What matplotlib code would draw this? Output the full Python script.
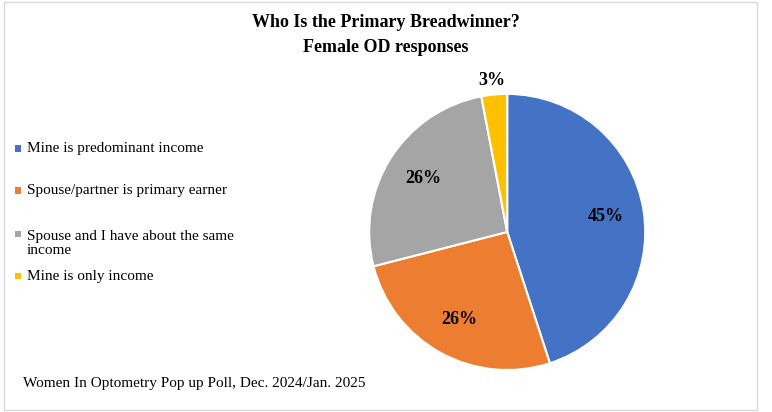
import matplotlib.pyplot as plt
from matplotlib.patches import Rectangle

labels = ["Mine is predominant income", "Spouse/partner is primary earner",
          "Spouse and I have about the same\nincome", "Mine is only income"]
values = [45, 26, 26, 3]
colors = ["#4472C4", "#ED7D31", "#A5A5A5", "#FFC000"]

plt.rcParams['font.family'] = ['Liberation Serif', 'DejaVu Serif']
fig = plt.figure(figsize=(7.72, 4.12), dpi=100)
fig.patches.append(Rectangle((0.005, 0.005), 0.975, 0.99, transform=fig.transFigure,
                             fill=False, edgecolor="#D9D9D9", linewidth=1))

fig.text(0.5, 0.945, "Who Is the Primary Breadwinner?", ha="center", va="center",
         fontsize=13, fontweight="bold")
fig.text(0.5, 0.885, "Female OD responses", ha="center", va="center",
         fontsize=13, fontweight="bold")

ax = fig.add_axes([0.478, 0.102, 0.358, 0.67])
wedges, texts, autotexts = ax.pie(values, colors=colors, startangle=90, counterclock=False,
                                  autopct="%d%%", pctdistance=0.72,
                                  wedgeprops=dict(edgecolor="white", linewidth=1.5),
                                  textprops=dict(fontsize=13, fontweight="bold"))
autotexts[3].set_position((-0.11, 1.1))
ax.set_xlim(-1, 1)
ax.set_ylim(-1, 1)
ax.set_aspect("equal")

ys = [0.64, 0.538, 0.41, 0.33]
for y, lab, c in zip(ys, labels, colors):
    my = y + 0.022 if "\n" in lab else y
    fig.patches.append(Rectangle((0.019, my - 0.008), 0.008, 0.015, transform=fig.transFigure,
                                 facecolor=c, edgecolor="none"))
    fig.text(0.035, y, lab, ha="left", va="center", fontsize=11, linespacing=1.1)

fig.text(0.03, 0.07, "Women In Optometry Pop up Poll, Dec. 2024/Jan. 2025",
         fontsize=11, va="center")
fig.savefig("out.png", dpi=100)
